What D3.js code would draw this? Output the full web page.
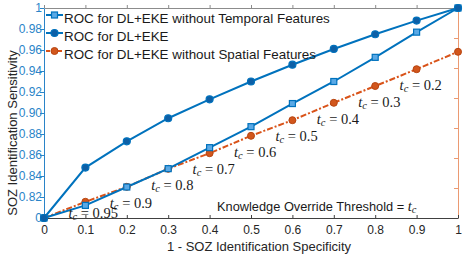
<!DOCTYPE html>
<html>
<head>
<meta charset="utf-8">
<script src="https://cdn.jsdelivr.net/npm/d3@7"></script>
<style>
  body { margin: 0; background: #fff; }
  svg { display: block; font-family: "Liberation Sans", Arial, sans-serif; }
</style>
</head>
<body>
<div id="chart"></div>
<script>
// 1 - specificity (false positive rate)
var fpr = [0, 0.1, 0.2, 0.3, 0.4, 0.5, 0.6, 0.7, 0.8, 0.9, 1];
// left axis series
var sensFull = [0.800, 0.848, 0.873, 0.895, 0.913, 0.930, 0.946, 0.961, 0.975, 0.988, 1.000];
var sensNoTemporal = [0.800, 0.812, 0.8295, 0.847, 0.867, 0.887, 0.909, 0.930, 0.953, 0.977, 1.000];
// right axis series (unlabelled axis)
var sensNoSpatial = [0.650, 0.677, 0.702, 0.732, 0.758, 0.787, 0.813, 0.842, 0.870, 0.898, 0.927];
// knowledge override threshold at each inner point
var thresholds = [null, 0.95, 0.9, 0.8, 0.7, 0.6, 0.5, 0.4, 0.3, 0.2, null];

var xTicks = [0, 0.1, 0.2, 0.3, 0.4, 0.5, 0.6, 0.7, 0.8, 0.9, 1];
var xTickLabels = ["0", "0.1", "0.2", "0.3", "0.4", "0.5", "0.6", "0.7", "0.8", "0.9", "1"];
var yTicks = [0.8, 0.82, 0.84, 0.86, 0.88, 0.9, 0.92, 0.94, 0.96, 0.98, 1];
var yTickLabels = ["0", "0.82", "0.84", "0.86", "0.88", "0.90", "0.92", "0.94", "0.96", "0.98", "1"];
var yRightTicks = [0.65, 0.7, 0.75, 0.8, 0.85, 0.9, 0.95, 1];

var seriesNames = ["ROC for DL+EKE without Temporal Features", "ROC for DL+EKE", "ROC for DL+EKE without Spatial Features"];

var width = 465,
    height = 257,
    plotL = 44, plotR = 458, plotT = 8, plotB = 218;

var blue = "#0072BD", orange = "#D95319";

var x = d3.scaleLinear().domain([0, 1]).range([plotL, plotR]);
var y = d3.scaleLinear().domain([0.8, 1]).range([plotB, plotT]);
var yR = d3.scaleLinear().domain([0.65, 1]).range([plotB, plotT]);

var svg = d3.select("#chart").append("svg")
    .attr("width", width)
    .attr("height", height);

// axes
var gTop = svg.append("g")
    .attr("transform", "translate(0," + plotT + ")")
    .call(d3.axisTop(x).tickValues(xTicks).tickSizeInner(3).tickSizeOuter(0).tickFormat(""));
gTop.selectAll("path, line").attr("stroke", "#8c8c8c");

var gRight = svg.append("g")
    .attr("transform", "translate(" + plotR + ",0)")
    .call(d3.axisRight(yR).tickValues(yRightTicks).tickSizeInner(-4).tickSizeOuter(0).tickFormat(""));
gRight.selectAll("path, line").attr("stroke", "#eb9a72");

var gBottom = svg.append("g")
    .attr("transform", "translate(0," + plotB + ")")
    .call(d3.axisBottom(x).tickValues(xTicks).tickSizeInner(-3).tickSizeOuter(0).tickPadding(7)
      .tickFormat(function(d, i) { return xTickLabels[i]; }));
gBottom.selectAll("path, line").attr("stroke", "#404040");
gBottom.selectAll("text").attr("fill", "#262626").style("font-size", "12px");

var gLeft = svg.append("g")
    .attr("transform", "translate(" + plotL + ",0)")
    .call(d3.axisLeft(y).tickValues(yTicks).tickSizeInner(4).tickSizeOuter(0).tickPadding(-2)
      .tickFormat(function(d, i) { return yTickLabels[i]; }));
gLeft.selectAll("path, line").attr("stroke", "#2a84c8");
gLeft.selectAll("text").attr("fill", "#2a84c8").style("font-size", "12px");
svg.selectAll(".domain").attr("stroke-width", 1);

// axis titles
svg.append("text")
    .attr("x", 259).attr("y", 251)
    .attr("text-anchor", "middle")
    .attr("fill", "#262626")
    .style("font-size", "13px")
    .text("1 - SOZ Identification Specificity");

svg.append("text")
    .attr("transform", "translate(16.5,133) rotate(-90)")
    .attr("text-anchor", "middle")
    .attr("fill", "#262626")
    .style("font-size", "13px")
    .text("SOZ Identification Sensitivity");

// lines
var lineL = d3.line().x(function(d, i) { return x(fpr[i]); }).y(function(d) { return y(d); });
var lineR = d3.line().x(function(d, i) { return x(fpr[i]); }).y(function(d) { return yR(d); });

svg.append("path")
    .attr("d", lineR(sensNoSpatial))
    .attr("fill", "none")
    .attr("stroke", orange)
    .attr("stroke-width", 2)
    .attr("stroke-dasharray", "6,2,2,2");

svg.append("path")
    .attr("d", lineL(sensNoTemporal))
    .attr("fill", "none")
    .attr("stroke", blue)
    .attr("stroke-width", 2);

svg.append("path")
    .attr("d", lineL(sensFull))
    .attr("fill", "none")
    .attr("stroke", blue)
    .attr("stroke-width", 2);

// markers
svg.selectAll(".m-spatial").data(sensNoSpatial).enter().append("circle")
    .attr("class", "m-spatial")
    .attr("cx", function(d, i) { return x(fpr[i]); })
    .attr("cy", function(d) { return yR(d); })
    .attr("r", 3.5)
    .attr("fill", "#d2561c")
    .attr("stroke", "#b7440f")
    .attr("stroke-width", 1);

svg.selectAll(".m-temporal").data(sensNoTemporal).enter().append("rect")
    .attr("class", "m-temporal")
    .attr("x", function(d, i) { return x(fpr[i]) - 3; })
    .attr("y", function(d) { return y(d) - 3; })
    .attr("width", 6).attr("height", 6)
    .attr("fill", "#5aa9e6")
    .attr("stroke", blue)
    .attr("stroke-width", 1.2);

svg.selectAll(".m-full").data(sensFull).enter().append("circle")
    .attr("class", "m-full")
    .attr("cx", function(d, i) { return x(fpr[i]); })
    .attr("cy", function(d) { return y(d); })
    .attr("r", 3.5)
    .attr("fill", "#0d5fa6")
    .attr("stroke", blue)
    .attr("stroke-width", 1.2);

// threshold labels, placed off each point of the right-axis series
function tcLabel(g, value) {
  var t = g.append("text")
      .attr("fill", "#1a1a1a")
      .style("font-family", "'Liberation Serif', 'Times New Roman', serif")
      .style("font-size", "14.5px")
      .attr("dominant-baseline", "middle")
      .attr("xml:space", "preserve");
  t.append("tspan").style("font-style", "italic").text("t");
  t.append("tspan").style("font-style", "italic").style("font-size", "10.5px").attr("dy", 3).text("c");
  return t.append("tspan").attr("dy", -3).text(value === undefined ? "" : " = " + value);
}

thresholds.forEach(function(tc, i) {
  if (tc === null) return;
  // keep the label inside the plot box
  var ly = Math.min(yR(sensNoSpatial[i]) + 18, plotB - 3);
  var g = svg.append("g")
      .attr("transform", "translate(" + (x(fpr[i]) - 17) + "," + ly + ")");
  tcLabel(g, tc);
});

// threshold note
var note = svg.append("g").attr("transform", "translate(217,208)");
var nt = note.append("text")
    .attr("fill", "#1a1a1a")
    .attr("dominant-baseline", "middle")
    .attr("xml:space", "preserve")
    .style("font-size", "12.8px")
    .text("Knowledge Override Threshold = ");
var nb = nt.node().getComputedTextLength();
var g2 = note.append("g").attr("transform", "translate(" + nb + ",0)");
tcLabel(g2);

// legend
var legendY = [15, 33, 51];
var legend = svg.selectAll(".legend").data(seriesNames).enter().append("g")
    .attr("class", "legend")
    .attr("transform", function(d, i) { return "translate(46," + legendY[i] + ")"; });

legend.append("line")
    .attr("x1", 0).attr("x2", 17)
    .attr("stroke", function(d, i) { return i == 2 ? orange : blue; })
    .attr("stroke-width", 2)
    .attr("stroke-dasharray", function(d, i) { return i == 2 ? "4,2" : null; });

legend.each(function(d, i) {
  var g = d3.select(this);
  if (i == 0) {
    g.append("rect").attr("x", 5.5).attr("y", -3).attr("width", 6).attr("height", 6)
      .attr("fill", "#5aa9e6").attr("stroke", blue).attr("stroke-width", 1.2);
  } else if (i == 1) {
    g.append("circle").attr("cx", 8.5).attr("r", 3.5)
      .attr("fill", "#0d5fa6").attr("stroke", blue).attr("stroke-width", 1.2);
  } else {
    g.append("circle").attr("cx", 8.5).attr("r", 3.5)
      .attr("fill", "#d2561c").attr("stroke", "#b7440f");
  }
});

legend.append("text")
    .attr("x", 18).attr("y", 4)
    .attr("dominant-baseline", "middle")
    .attr("fill", "#1a1a1a")
    .style("font-size", "13.4px")
    .text(function(d) { return d; });
</script>
</body>
</html>
